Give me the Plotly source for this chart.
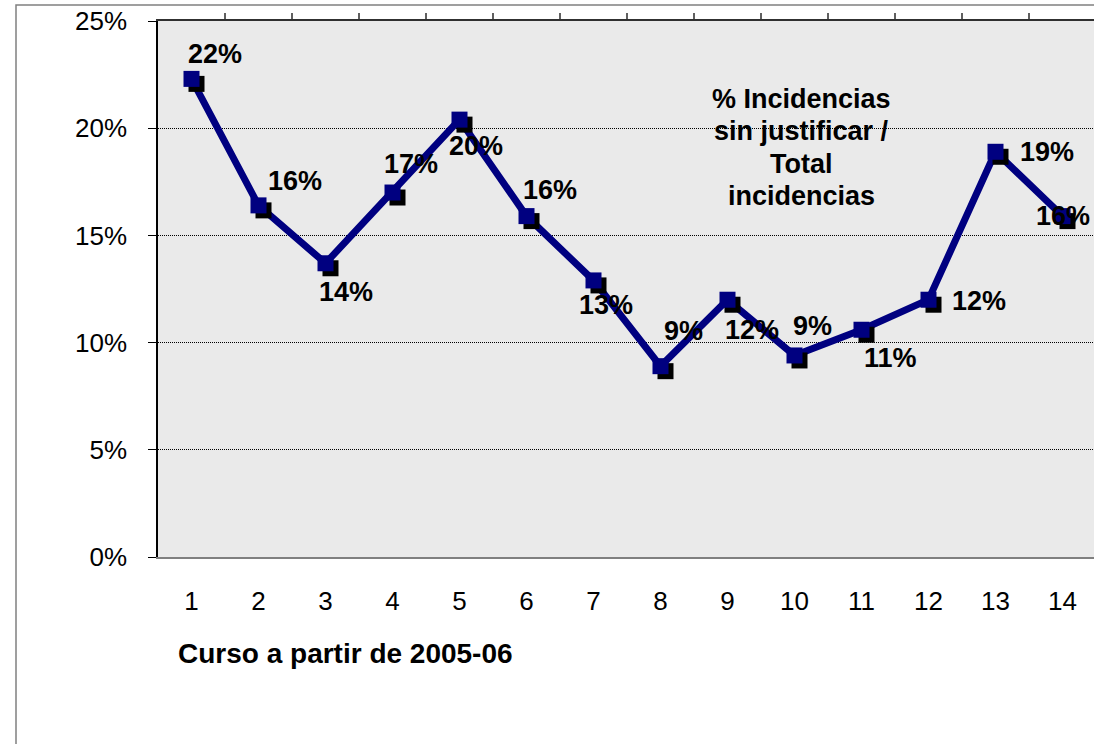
import plotly.graph_objects as go

# ---- data ----
cursos = list(range(1, 15))
tick_labels = [str(c) for c in cursos]
pct_sin_justificar = [0.223, 0.164, 0.137, 0.170, 0.204, 0.159, 0.129,
                      0.089, 0.120, 0.094, 0.106, 0.120, 0.189, 0.159]
y_ticks = [0.0, 0.05, 0.10, 0.15, 0.20, 0.25]
title_text = "Curso a partir de 2005-06"
note_lines = ["% Incidencias", "sin justificar /", "Total", "incidencias"]

# ---- style / layout constants ----
W, H = 1094, 744
CAT_PX = 67.0
ML, MT = 158, 21
PLOT_BOTTOM = 557
MR = 0
PW = W - ML - MR
MB = H - PLOT_BOTTOM
PH = PLOT_BOTTOM - MT
x_range = [0.5, 0.5 + PW / CAT_PX]
y_range = [0.0, 0.25]
SH = 5  # shadow offset px
x_range_sh = [x_range[0] - SH / CAT_PX, x_range[1] - SH / CAT_PX]
dy = SH / PH * (y_range[1] - y_range[0])
y_range_sh = [y_range[0] + dy, y_range[1] + dy]

NAVY = "#000080"
FONT = "Liberation Sans, Arial, sans-serif"

# label offsets (px) relative to each point
label_dx = [23, 36, 20, 18, 16, 23, 12, 23, 24, 18, 29, 50, 51, 0]
label_dy = [-25, -24, 29, -29, 26, -26, 25, -35, 30, -29, 28, 1, 0, 0]


def px_x(p):
    return (p - ML) / PW


def px_y(p):
    return 1 - (p - MT) / PH


fig = go.Figure()

fig.add_trace(go.Scatter(x=cursos, y=pct_sin_justificar, mode="lines",
                         line=dict(color=NAVY, width=7), hoverinfo="skip",
                         xaxis="x", yaxis="y", showlegend=False))
fig.add_trace(go.Scatter(x=cursos, y=pct_sin_justificar, mode="markers",
                         marker=dict(symbol="square", size=16, color="black"),
                         hoverinfo="skip", xaxis="x2", yaxis="y2", showlegend=False))
fig.add_trace(go.Scatter(x=cursos, y=pct_sin_justificar, mode="markers",
                         marker=dict(symbol="square", size=16, color=NAVY),
                         xaxis="x3", yaxis="y3", showlegend=False))

annotations = []
for xv, yv, dx_, dy_ in zip(cursos, pct_sin_justificar, label_dx, label_dy):
    annotations.append(dict(x=xv, y=yv, xref="x", yref="y",
                            text=f"{round(yv * 100)}%", showarrow=False,
                            xshift=dx_, yshift=-dy_,
                            font=dict(family=FONT, size=27, color="black",
                                      weight="bold")))

# title under the x axis
annotations.append(dict(x=px_x(176), y=px_y(653),
                        xref="paper", yref="paper", xanchor="left", yanchor="middle",
                        text=f"<b>{title_text}</b>", showarrow=False,
                        font=dict(family=FONT, size=28, color="black")))
# note in plot
for i, line in enumerate(note_lines):
    cy = 99 + i * 32.3
    annotations.append(dict(x=px_x(801), y=px_y(cy),
                            xref="paper", yref="paper", xanchor="center",
                            yanchor="middle", text=f"<b>{line}</b>",
                            showarrow=False,
                            font=dict(family=FONT, size=27, color="black")))

# outer frame (right and bottom edges lie outside the picture)
shapes = [dict(type="rect", xref="paper", yref="paper",
               x0=px_x(16), x1=px_x(W + 40),
               y0=px_y(H + 40), y1=px_y(5),
               line=dict(color="#808080", width=1.5), layer="below")]

fig.update_layout(
    width=W, height=H,
    margin=dict(l=ML, r=MR, t=MT, b=MB, pad=0),
    paper_bgcolor="white", plot_bgcolor="#eaeaea",
    font=dict(family=FONT, color="black"),
    annotations=annotations, shapes=shapes,
    xaxis=dict(range=x_range, tickvals=cursos, ticktext=tick_labels,
               showgrid=False, zeroline=False, showline=True,
               linecolor="#808080", linewidth=2, ticks="",
               tickfont=dict(size=26, family=FONT), ticklabelstandoff=20),
    yaxis=dict(range=y_range, tickvals=y_ticks, tickformat=".0%",
               showgrid=True, gridcolor="black", griddash="1px,1px", gridwidth=1,
               zeroline=False, showline=True, linecolor="black", linewidth=1.5,
               ticks="outside", ticklen=8, tickcolor="black", tickwidth=1,
               ticklabeloverflow="allow",
               tickfont=dict(size=26, family=FONT), ticklabelstandoff=16),
    xaxis2=dict(range=x_range_sh, overlaying="x", visible=False),
    yaxis2=dict(range=y_range_sh, overlaying="y", visible=False),
    xaxis3=dict(range=x_range, overlaying="x", side="top", anchor="y3",
                tickvals=[c + 0.5 for c in cursos[:-1]], showticklabels=False,
                ticks="outside", ticklen=6, tickcolor="#606060", tickwidth=1.5,
                showline=True, linecolor="#303030", linewidth=1.5,
                showgrid=False, zeroline=False),
    yaxis3=dict(range=y_range, overlaying="y", visible=False),
)

fig.write_html("out.html",
               config={"displayModeBar": False},
               post_script="document.body.style.margin='0';"
                           "document.body.style.overflow='hidden';")
